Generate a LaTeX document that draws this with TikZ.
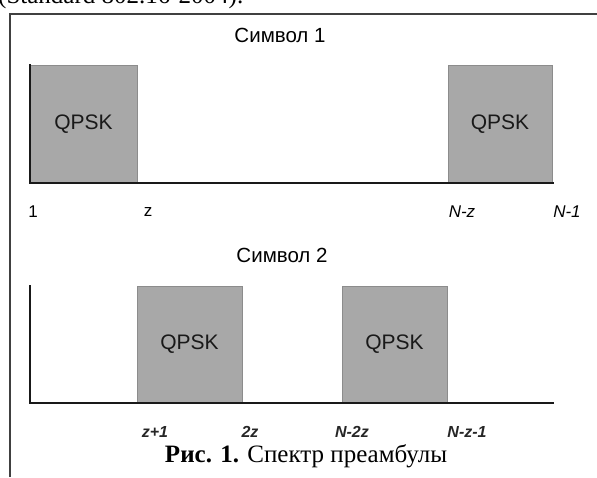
\documentclass[tikz,border=0pt]{standalone}
\usepackage{fontspec}
\setmainfont{Liberation Serif}
\newfontfamily\arialfont{Liberation Sans}
\begin{document}
\begin{tikzpicture}[x=1pt,y=-1pt,
  frame/.style={draw=black!75,line width=1.6pt},
  axis/.style={draw=black!90,line width=2pt},
  qbox/.style={draw=black!45,line width=0.6pt,fill=black!34,inner sep=0pt,outer sep=0pt,
    font=\arialfont\fontsize{21}{24}\selectfont,text=black!90},
  sym/.style={font=\arialfont\fontsize{20.5}{24}\selectfont,text=black},
  tick/.style={font=\arialfont\fontsize{17}{20}\selectfont,text=black},
  itick/.style={font=\arialfont\itshape\fontsize{17}{20}\selectfont,text=black},
  bitick/.style={font=\arialfont\bfseries\itshape\fontsize{16}{20}\selectfont,text=black!85},
  caption/.style={font=\fontsize{25}{28}\selectfont,text=black}]
\useasboundingbox (0,0) rectangle (597,477);
\clip (0,0) rectangle (597,477);

% text running above the figure
\node[caption,anchor=base west,inner sep=0pt] (above) at (-2,3) {(Standard 802.16-2004).};

% figure frame
\coordinate (fl) at (10,477);
\coordinate (fc) at (10,14);
\coordinate (fr) at (600,14);
\draw[frame] (fl) -- (fc) -- (fr);

% ---- symbol 1 ----
\node[sym] (s1) at (280,35) {Символ 1};
\node[qbox,minimum width=107pt,minimum height=118pt,anchor=south west] (a1) at (30,183) {QPSK};
\node[qbox,minimum width=104pt,minimum height=118pt,anchor=south west] (a2) at (448,183) {QPSK};
\coordinate (t1) at (30,64);
\coordinate (o1) at (30,183);
\coordinate (e1) at (554,183);
\draw[axis] (t1) -- (o1) -- (e1);
\node[tick] (l11) at (33,212) {1};
\node[tick] (l12) at (148,212) {z};
\node[itick] (l13) at (462,212) {N-z};
\node[itick] (l14) at (567,212) {N-1};

% ---- symbol 2 ----
\node[sym] (s2) at (282,255) {Символ 2};
\node[qbox,minimum width=105pt,minimum height=117pt,anchor=south west] (b1) at (137,403) {QPSK};
\node[qbox,minimum width=105pt,minimum height=117pt,anchor=south west] (b2) at (342,403) {QPSK};
\coordinate (t2) at (30,285);
\coordinate (o2) at (30,403);
\coordinate (e2) at (554,403);
\draw[axis] (t2) -- (o2) -- (e2);
\node[bitick] (l21) at (155,432) {z+1};
\node[bitick] (l22) at (250,432) {2z};
\node[bitick] (l23) at (352,432) {N-2z};
\node[bitick] (l24) at (467,432) {N-z-1};

% caption
\node[caption,anchor=base,inner sep=0pt] (cap) at (306,462) {\textbf{Рис. 1.} Спектр преамбулы};
\end{tikzpicture}
\end{document}
